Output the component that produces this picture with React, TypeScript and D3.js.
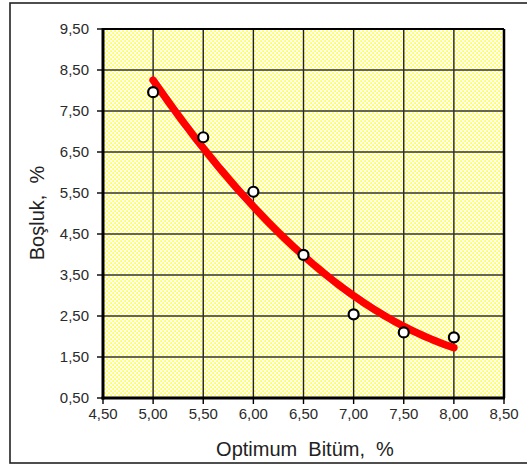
import React from "react";
import * as d3 from "d3";

const bitumen = [5.0, 5.5, 6.0, 6.5, 7.0, 7.5, 8.0];
const voids = [7.96, 6.86, 5.53, 3.99, 2.54, 2.1, 1.98];
const xTicks = [4.5, 5.0, 5.5, 6.0, 6.5, 7.0, 7.5, 8.0, 8.5];
const yTicks = [0.5, 1.5, 2.5, 3.5, 4.5, 5.5, 6.5, 7.5, 8.5, 9.5];
const xTitle = "Optimum  Bitüm,  %";
const yTitle = "Boşluk,  %";

// least-squares quadratic trendline (as the spreadsheet's polynomial trendline)
function quadFit(xs: number[], ys: number[]) {
  const n = xs.length;
  let s = [0, 0, 0, 0, 0];
  let t = [0, 0, 0];
  for (let i = 0; i < n; i++) {
    const x = xs[i];
    for (let k = 0; k < 5; k++) s[k] += Math.pow(x, k);
    for (let k = 0; k < 3; k++) t[k] += ys[i] * Math.pow(x, k);
  }
  const A = [
    [s[0], s[1], s[2], t[0]],
    [s[1], s[2], s[3], t[1]],
    [s[2], s[3], s[4], t[2]],
  ];
  for (let c = 0; c < 3; c++) {
    for (let r = c + 1; r < 3; r++) {
      const f = A[r][c] / A[c][c];
      for (let k = c; k < 4; k++) A[r][k] -= f * A[c][k];
    }
  }
  const coef = [0, 0, 0];
  for (let r = 2; r >= 0; r--) {
    let v = A[r][3];
    for (let k = r + 1; k < 3; k++) v -= A[r][k] * coef[k];
    coef[r] = v / A[r][r];
  }
  return (x: number) => coef[0] + coef[1] * x + coef[2] * x * x;
}

export default function App() {
  const W = 527;
  const H = 466;
  const x = d3.scaleLinear().domain([4.5, 8.5]).range([103, 504]);
  const y = d3.scaleLinear().domain([0.5, 9.5]).range([398, 29]);
  const fmt = (v: number) => d3.format(".2f")(v).replace(".", ",");
  const fit = quadFit(bitumen, voids);
  const xMin = d3.min(bitumen) as number;
  const xMax = d3.max(bitumen) as number;
  const trend = d3.range(0, 61).map((i) => {
    const xv = xMin + ((xMax - xMin) * i) / 60;
    return [xv, fit(xv)] as [number, number];
  });
  const line = d3
    .line<[number, number]>()
    .x((d) => x(d[0]))
    .y((d) => y(d[1]))
    .curve(d3.curveLinear);

  const [x0, x1] = x.range();
  const [y0, y1] = y.range();
  const font = "'Liberation Sans', Arial, sans-serif";

  return (
    <svg
      width={W}
      height={H}
      style={{ position: "absolute", left: 0, top: 0, background: "#fff" }}
    >
      <defs>
        <pattern id="dots" width={4} height={4} patternUnits="userSpaceOnUse">
          <rect width={4} height={4} fill="#ffffff" />
          <rect x={0.3} y={0.3} width={1.6} height={1.6} fill="#ffff22" />
          <rect x={2.3} y={2.3} width={1.6} height={1.6} fill="#ffff22" />
        </pattern>
      </defs>
      {/* outer frame */}
      <rect x={10} y={3} width={540} height={460} fill="#fff" stroke="#222" strokeWidth={1.6} />

      {/* plot background */}
      <rect x={x0} y={y1} width={x1 - x0} height={y0 - y1} fill="url(#dots)" />

      {/* grid */}
      {xTicks.map((t) => (
        <line key={"gx" + t} x1={x(t)} x2={x(t)} y1={y1} y2={y0} stroke="#222" strokeWidth={1.4} />
      ))}
      {yTicks.map((t) => (
        <line key={"gy" + t} x1={x0} x2={x1} y1={y(t)} y2={y(t)} stroke="#333" strokeWidth={1.4} />
      ))}

      {/* plot border */}
      <line x1={x0} x2={x1} y1={y1} y2={y1} stroke="#000" strokeWidth={2} />
      <line x1={x1} x2={x1} y1={y1} y2={y0} stroke="#000" strokeWidth={2.5} />
      <line x1={x0} x2={x0} y1={y1 - 1} y2={y0 + 1.5} stroke="#000" strokeWidth={3} />
      <line x1={x0 - 1.5} x2={x1 + 1} y1={y0} y2={y0} stroke="#000" strokeWidth={3} />

      {/* ticks */}
      {yTicks.map((t) => (
        <g key={"ty" + t}>
          <line x1={x0 - 6} x2={x0} y1={y(t)} y2={y(t)} stroke="#000" strokeWidth={1.4} />
          <text
            x={89}
            y={y(t)}
            dy="0.35em"
            textAnchor="end"
            fontFamily={font}
            fontSize={15}
            fill="#2a2a2a"
          >
            {fmt(t)}
          </text>
        </g>
      ))}
      {xTicks.map((t) => (
        <g key={"tx" + t}>
          <line x1={x(t)} x2={x(t)} y1={y0} y2={y0 + 6} stroke="#000" strokeWidth={1.4} />
          <text
            x={x(t)}
            y={419}
            textAnchor="middle"
            fontFamily={font}
            fontSize={15}
            fill="#2a2a2a"
          >
            {fmt(t)}
          </text>
        </g>
      ))}

      {/* trendline */}
      <path
        d={line(trend) || ""}
        fill="none"
        stroke="#ff0000"
        strokeWidth={7.5}
        strokeLinecap="round"
        strokeLinejoin="round"
      />

      {/* points */}
      {bitumen.map((b, i) => (
        <circle
          key={"p" + i}
          cx={x(b)}
          cy={y(voids[i])}
          r={5}
          fill="#fff"
          stroke="#000"
          strokeWidth={2.2}
        />
      ))}

      {/* axis titles */}
      <text
        x={305}
        y={456}
        textAnchor="middle"
        fontFamily={font}
        fontSize={20}
        fill="#222"
        style={{ whiteSpace: "pre" }}
      >
        {xTitle}
      </text>
      <text
        transform={`translate(44, 213) rotate(-90)`}
        textAnchor="middle"
        fontFamily={font}
        fontSize={20}
        fill="#222"
        style={{ whiteSpace: "pre" }}
      >
        {yTitle}
      </text>
    </svg>
  );
}
